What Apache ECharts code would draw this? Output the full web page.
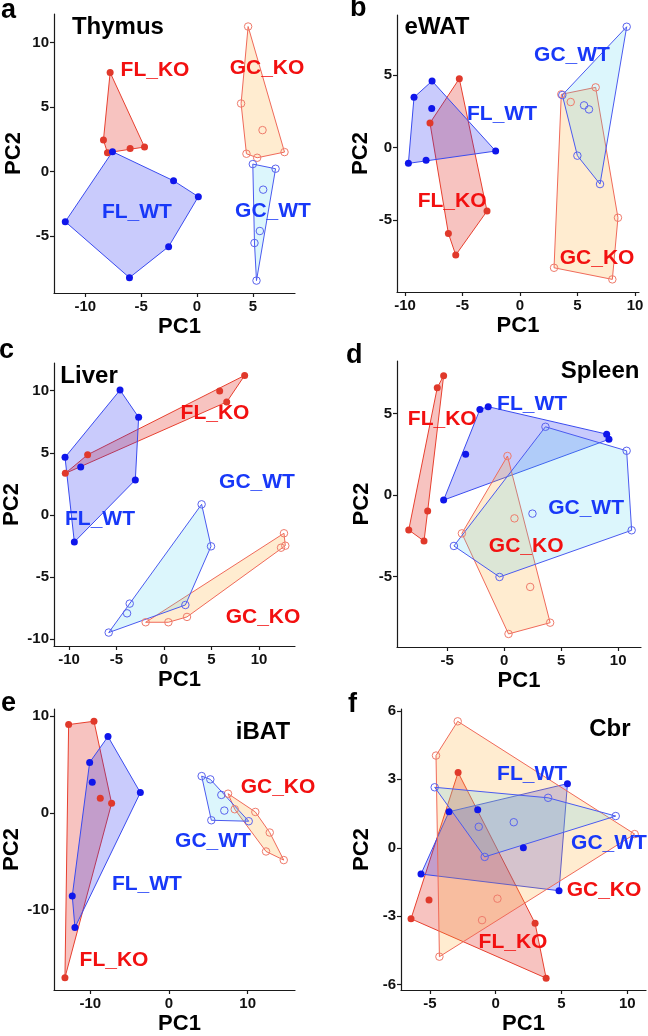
<!DOCTYPE html>
<html><head><meta charset="utf-8">
<script src="https://cdn.jsdelivr.net/npm/echarts@6/dist/echarts.min.js"></script>
<style>html,body{margin:0;padding:0;background:#fff}#c{width:648px;height:1036px}</style>
</head><body><div id="c"></div>
<script>
// ---------------- DATA ----------------
const groupNames = ['FL_KO', 'FL_WT', 'GC_KO', 'GC_WT'];
const tissues = ['Thymus', 'eWAT', 'Liver', 'Spleen', 'iBAT', 'Cbr'];
const panelLetters = ['a', 'b', 'c', 'd', 'e', 'f'];

// Thymus
const thymusFL_KO = [[-7.78,7.68],[-8.38,2.45],[-8.02,1.47],[-5.99,1.80],[-4.70,1.91]];
const thymusFL_WT = [[-7.57,1.55],[-2.10,-0.70],[0.12,-1.93],[-2.54,-5.80],[-6.05,-8.20],[-11.80,-3.87]];
const thymusGC_KO = [[4.58,11.24],[3.95,5.28],[5.87,3.22],[4.43,1.39],[5.39,1.08],[7.84,1.52]];
const thymusGC_WT = [[5.00,0.59],[7.04,0.23],[5.93,-1.39],[5.63,-4.59],[5.15,-5.52],[5.33,-8.43]];
// eWAT
const ewatFL_KO = [[-5.28,4.76],[-7.83,1.70],[-2.87,-4.37],[-6.23,-5.91],[-5.59,-7.40]];
const ewatFL_WT = [[-7.65,4.60],[-9.22,3.47],[-7.68,2.71],[-2.12,-0.23],[-8.17,-0.87],[-9.71,-1.08]];
const ewatGC_KO = [[3.59,3.68],[6.58,4.16],[4.41,3.15],[8.52,-4.83],[8.03,-9.08],[2.96,-8.28]];
const ewatGC_WT = [[9.28,8.34],[3.68,3.63],[5.57,2.92],[6.00,2.64],[4.99,-0.55],[6.96,-2.51]];
// Liver
const liverFL_KO = [[8.49,11.23],[5.86,9.97],[6.60,9.09],[-8.04,4.85],[-10.39,3.35]];
const liverFL_WT = [[-4.63,10.05],[-2.67,7.86],[-10.42,4.64],[-8.77,3.86],[-3.02,2.82],[-9.44,-2.17]];
const liverGC_KO = [[12.63,-1.47],[12.77,-2.47],[12.32,-2.63],[2.42,-8.20],[0.46,-8.63],[-1.93,-8.63]];
const liverGC_WT = [[3.96,0.86],[4.95,-2.52],[2.25,-7.24],[-3.61,-7.13],[-3.89,-7.91],[-5.82,-9.46]];
// Spleen
const spleenFL_KO = [[-5.31,7.31],[-5.87,6.57],[-6.71,-0.98],[-8.37,-2.14],[-7.03,-2.82]];
const spleenFL_WT = [[-2.13,5.24],[-1.40,5.41],[-3.38,2.49],[8.99,3.73],[9.19,3.41],[-5.31,-0.31]];
const spleenGC_KO = [[0.29,2.39],[0.90,-1.43],[-3.71,-2.35],[2.28,-5.63],[4.03,-7.82],[0.38,-8.51]];
const spleenGC_WT = [[3.62,4.18],[10.74,2.71],[11.18,-2.16],[2.48,-1.14],[-0.41,-5.02],[-4.41,-3.12]];
// iBAT
const ibatFL_KO = [[-12.75,9.14],[-9.53,9.48],[-8.73,1.51],[-7.29,1.00],[-13.22,-17.04]];
const ibatFL_WT = [[-7.75,7.90],[-10.08,5.22],[-9.75,3.16],[-3.64,2.10],[-12.29,-8.59],[-11.95,-11.86]];
const ibatGC_KO = [[7.50,1.99],[8.35,0.38],[10.97,0.10],[12.80,-2.03],[12.33,-3.99],[14.58,-4.88]];
const ibatGC_WT = [[4.15,3.81],[5.25,3.47],[6.65,1.86],[7.03,0.24],[5.38,-0.76],[10.13,-0.86]];
// Cbr
const cbrFL_KO = [[-2.86,3.30],[-5.07,-2.29],[-6.44,-3.11],[2.99,-3.31],[3.83,-5.71]];
const cbrFL_WT = [[5.45,2.81],[-1.37,1.67],[-3.55,1.58],[2.10,0.00],[-5.68,-1.15],[4.81,-1.88]];
const cbrGC_KO = [[-2.89,5.54],[-4.54,4.04],[10.56,0.60],[0.13,-2.23],[-1.04,-3.17],[-4.28,-4.77]];
const cbrGC_WT = [[-4.64,2.65],[3.98,2.19],[1.37,1.12],[-1.29,0.92],[9.12,1.39],[-0.84,-0.40]];

// group label anchor points (data coordinates), order FL_KO, FL_WT, GC_KO, GC_WT
const thymusLabelAt = [[-3.76,7.87],[-5.38,-3.12],[6.27,8.03],[6.81,-3.04]];
const ewatLabelAt   = [[-5.91,-3.68],[-1.57,2.32],[6.70,-7.61],[4.52,6.39]];
const liverLabelAt  = [[5.37,8.21],[-6.74,-0.32],[10.42,-8.21],[9.79,2.65]];
const spleenLabelAt = [[-5.43,4.65],[2.45,5.57],[1.93,-3.12],[7.18,-0.80]];
const ibatLabelAt   = [[-6.99,-15.22],[-2.80,-7.39],[13.85,2.71],[5.59,-2.96]];
const cbrLabelAt    = [[1.31,-4.13],[2.76,3.22],[8.23,-1.85],[8.61,0.19]];
// tissue title anchors (data coordinates)
const titleAt = [[-7.08,11.2],[-7.22,8.32],[-7.89,11.18],[8.41,7.59],[11.94,8.38],[8.68,5.17]];

// axis ranges and ticks
const xRanges = [[-12.81,8.78],[-10.70,10.35],[-11.58,13.79],[-9.40,12.0],[-14.61,16.01],[-7.20,11.42]];
const yRanges = [[-9.39,12.21],[-9.95,9.15],[-10.54,12.23],[-9.31,8.21],[-18.32,10.75],[-6.23,6.08]];
const xTicks = [[-10,-5,0,5],[-10,-5,0,5,10],[-10,-5,0,5,10],[-5,0,5,10],[-10,0,10],[-5,0,5,10]];
const yTicks = [[-5,0,5,10],[-5,0,5],[-10,-5,0,5,10],[-5,0,5],[-10,0,10],[-6,-3,0,3,6]];

const panelData = [
  [thymusFL_KO, thymusFL_WT, thymusGC_KO, thymusGC_WT],
  [ewatFL_KO, ewatFL_WT, ewatGC_KO, ewatGC_WT],
  [liverFL_KO, liverFL_WT, liverGC_KO, liverGC_WT],
  [spleenFL_KO, spleenFL_WT, spleenGC_KO, spleenGC_WT],
  [ibatFL_KO, ibatFL_WT, ibatGC_KO, ibatGC_WT],
  [cbrFL_KO, cbrFL_WT, cbrGC_KO, cbrGC_WT]
];
const labelData = [thymusLabelAt, ewatLabelAt, liverLabelAt, spleenLabelAt, ibatLabelAt, cbrLabelAt];

// ---------------- LAYOUT / STYLE ----------------
const FONT = '"Liberation Sans", Arial, Helvetica, sans-serif';
const grids = [
  {left:54,  top:14,  width:241, height:279},
  {left:397, top:15,  width:242, height:277},
  {left:54,  top:363, width:241, height:283},
  {left:397, top:361, width:244, height:286},
  {left:54,  top:709, width:241, height:282},
  {left:401, top:709, width:245, height:284}
];
const yNameGap = [29, 25, 29, 24, 27, 28];
const letterPos = [[9,12],[358,10],[7,352],[354,357],[9,705],[356,706]];

const groupStyle = {
  FL_KO: {fill:'rgba(225,40,30,0.28)', stroke:'#E8402F', point:'#E0392B', hollow:false, text:'#F21010'},
  FL_WT: {fill:'rgba(20,30,240,0.23)', stroke:'#3A4BF0', point:'#0F16EB', hollow:false, text:'#1838F8'},
  GC_KO: {fill:'rgba(255,170,40,0.22)', stroke:'#F06A5A', point:'#EF7B6B', hollow:true, text:'#F21010'},
  GC_WT: {fill:'rgba(80,210,240,0.20)', stroke:'#4A5AF0', point:'#5A63EE', hollow:true, text:'#1838F8'}
};

function convexHull(points) {
  const p = points.map(q => q.slice()).sort((a, b) => a[0] - b[0] || a[1] - b[1]);
  const cross = (o, a, b) => (a[0]-o[0])*(b[1]-o[1]) - (a[1]-o[1])*(b[0]-o[0]);
  const lower = [];
  for (const pt of p) { while (lower.length >= 2 && cross(lower[lower.length-2], lower[lower.length-1], pt) <= 0) lower.pop(); lower.push(pt); }
  const upper = [];
  for (let i = p.length - 1; i >= 0; i--) { const pt = p[i]; while (upper.length >= 2 && cross(upper[upper.length-2], upper[upper.length-1], pt) <= 0) upper.pop(); upper.push(pt); }
  upper.pop(); lower.pop();
  return lower.concat(upper);
}

const option = {
  animation: false,
  backgroundColor: '#fff',
  textStyle: {fontFamily: FONT},
  grid: [], xAxis: [], yAxis: [], series: [], graphic: []
};

for (let i = 0; i < 6; i++) {
  option.grid.push(Object.assign({containLabel:false}, grids[i]));
  const leftCol = (i % 2 === 0);
  option.xAxis.push({
    type:'value', gridIndex:i, min:xRanges[i][0], max:xRanges[i][1],
    splitLine:{show:false},
    axisLine:{show:true, onZero:false, lineStyle:{color:'#1a1a1a', width:1.2}},
    axisTick:{show:true, length:4, customValues:xTicks[i], lineStyle:{color:'#1a1a1a', width:1.2}},
    axisLabel:{customValues:xTicks[i], fontSize:15, fontWeight:'bold', color:'#111', margin:6, fontFamily:FONT},
    name:'PC1', nameLocation:'middle', nameGap:23,
    nameTextStyle:{fontSize:22, fontWeight:'bold', color:'#000', fontFamily:FONT, verticalAlign:'top', padding: leftCol ? [0,0,0,10] : 0}
  });
  option.yAxis.push({
    type:'value', gridIndex:i, min:yRanges[i][0], max:yRanges[i][1],
    splitLine:{show:false},
    axisLine:{show:true, onZero:false, lineStyle:{color:'#1a1a1a', width:1.2}},
    axisTick:{show:true, length:4, customValues:yTicks[i], lineStyle:{color:'#1a1a1a', width:1.2}},
    axisLabel:{customValues:yTicks[i], fontSize:15, fontWeight:'bold', color:'#111', margin:5, fontFamily:FONT},
    name:'PC2', nameLocation:'middle', nameGap:yNameGap[i],
    nameTextStyle:{fontSize:22, fontWeight:'bold', color:'#000', fontFamily:FONT}
  });

  // hulls
  groupNames.forEach((g, gi) => {
    const pts = panelData[i][gi];
    const hull = convexHull(pts);
    const st = groupStyle[g];
    option.series.push({
      type:'custom', xAxisIndex:i, yAxisIndex:i, z:1, silent:true,
      data: hull,
      renderItem: function (params, api) {
        if (params.dataIndex !== 0) return null;
        const poly = hull.map(p => api.coord(p));
        return {type:'polygon', shape:{points:poly}, style:{fill:st.fill, stroke:st.stroke, lineWidth:1}};
      }
    });
  });
  // points
  groupNames.forEach((g, gi) => {
    const st = groupStyle[g];
    option.series.push({
      type:'scatter', xAxisIndex:i, yAxisIndex:i, z:3, silent:true,
      data: panelData[i][gi],
      symbol:'circle', symbolSize: st.hollow ? 7.5 : 7,
      itemStyle: st.hollow ? {color:'rgba(255,255,255,0)', borderColor:st.point, borderWidth:1, opacity:1} : {color:st.point, borderWidth:0, opacity:1}
    });
  });
  // group labels
  option.series.push({
    type:'scatter', xAxisIndex:i, yAxisIndex:i, z:4, silent:true, symbolSize:0,
    itemStyle:{opacity:1},
    data: groupNames.map((g, gi) => ({
      name:g, value:labelData[i][gi],
      label:{show:true, position:'inside', formatter:'{b}', color:groupStyle[g].text, opacity:1, fontSize:21, fontWeight:'bold', fontFamily:FONT}
    }))
  });
  // tissue title
  option.series.push({
    type:'scatter', xAxisIndex:i, yAxisIndex:i, z:4, silent:true, symbolSize:0,
    itemStyle:{opacity:1},
    data:[{name:tissues[i], value:titleAt[i]}],
    label:{show:true, position:'inside', formatter:'{b}', color:'#000', opacity:1, fontSize:24, fontWeight:'bold', fontFamily:FONT}
  });
  // panel letter
  option.graphic.push({
    type:'text', left:letterPos[i][0] - 8, top:letterPos[i][1] - 15,
    style:{text:panelLetters[i], font:'bold 27px ' + FONT, fill:'#000'}
  });
}

const chart = echarts.init(document.getElementById('c'), null, {renderer:'canvas'});
chart.setOption(option);
</script>
</body></html>
